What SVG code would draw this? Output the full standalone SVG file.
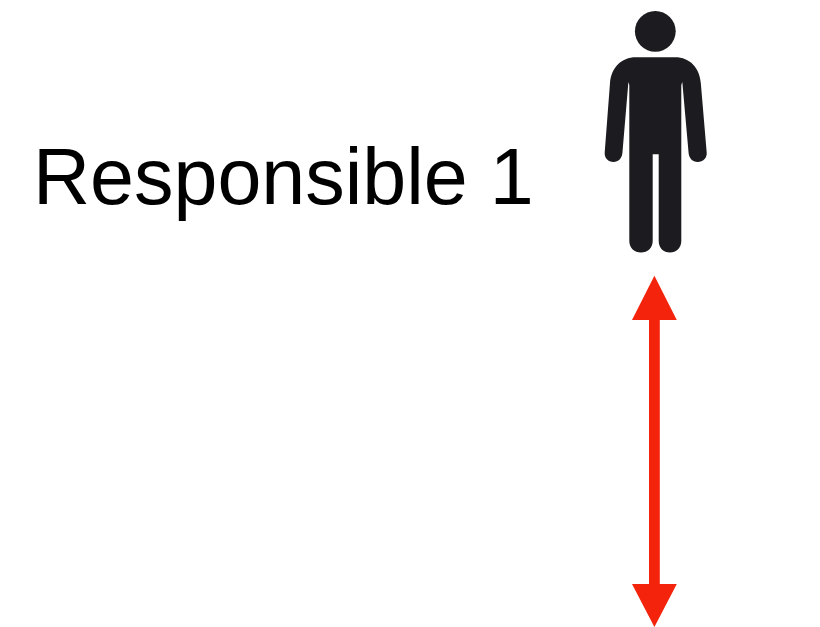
<svg xmlns="http://www.w3.org/2000/svg" width="820" height="627" viewBox="0 0 820 627">
<style>
.label{font-family:"Liberation Sans",Arial,sans-serif;font-size:79px;fill:#000}
.person{fill:#1c1c20}
.arrow{fill:#f3230c}
</style>
<rect width="820" height="627" fill="#fff"/>
<g id="label"><text class="label" x="33" y="204">Responsible 1</text></g>
<g id="person">
<circle class="person" cx="655.3" cy="31.3" r="20.4"/>
<path class="person" d="M636 57.3H675C690 57.3 699.5 68 700.8 83L706.7 152.5C707.2 158 703 162 697.7 162C692.5 162 689 158 688.6 153L682.3 82L681.3 85V241C681.3 248 676 252.5 670 252.5C663.5 252.5 658.7 248 658.7 241V154.3H652.7V241C652.7 248 647.5 252.5 641 252.5C634.5 252.5 629.3 248 629.3 241V85L628.4 82L622.4 153C622 158 618.5 162 613.5 162C608.3 162 604.2 158 604.7 152.5L610 83C611.3 68 621 57.3 636 57.3Z"/>
</g>
<g id="connectors">
<path id="double-arrow" class="arrow" d="M654.4 275.7L676.8 320H659.8V584H676.8L654.4 627L632 584H649V320H632Z"/>
</g>
</svg>
